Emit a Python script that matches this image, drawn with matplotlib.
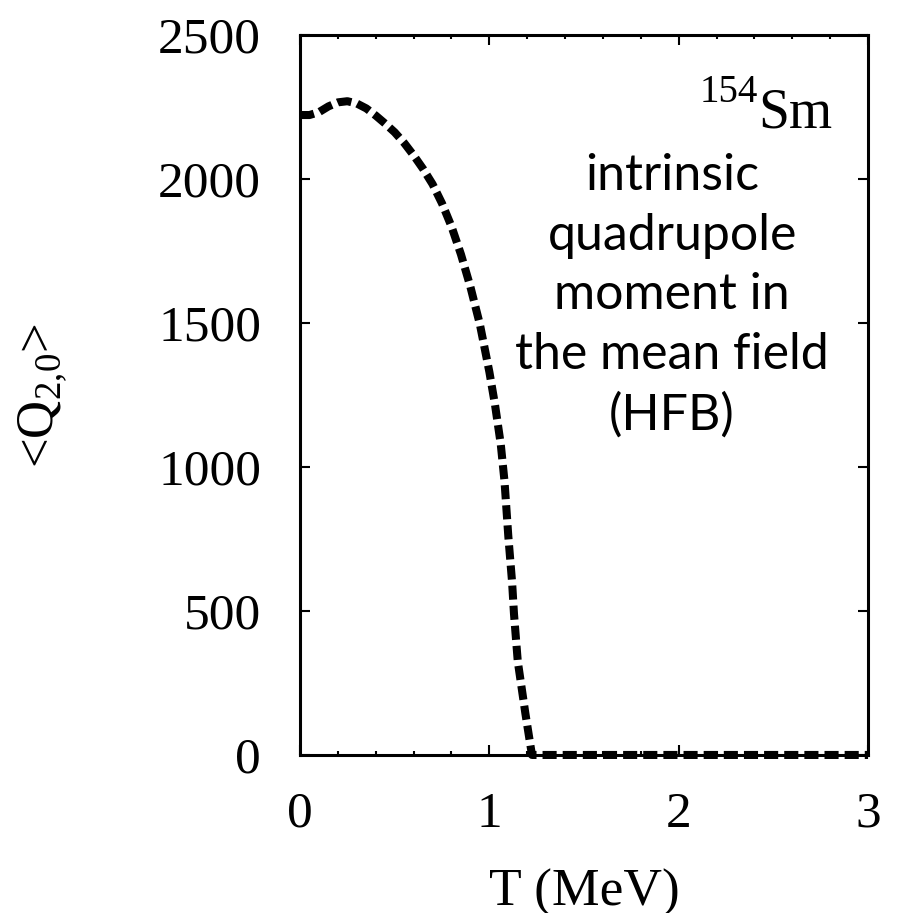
import matplotlib
matplotlib.use('Agg')
import matplotlib.pyplot as plt
from matplotlib.ticker import MultipleLocator

# temperature (MeV) and intrinsic quadrupole moment <Q20>
T = [0.00, 0.05, 0.10, 0.15, 0.20, 0.25, 0.30, 0.35, 0.40, 0.45, 0.50, 0.55,
     0.60, 0.65, 0.70, 0.75, 0.80, 0.85, 0.90, 0.95, 1.00, 1.03, 1.06, 1.08,
     1.10, 1.12, 1.13, 1.15, 1.19, 1.215, 1.225, 1.5, 2.0, 2.5, 3.0]
Q = [2222, 2222, 2232, 2252, 2266, 2270, 2262, 2245, 2220, 2192, 2162, 2125,
     2082, 2035, 1982, 1915, 1835, 1738, 1625, 1495, 1330, 1215, 1080, 950,
     760, 600, 490, 325, 145, 41, 0, 0, 0, 0, 0]

x_ticks = [0, 1, 2, 3]
y_ticks = [0, 500, 1000, 1500, 2000, 2500]
mass_number = '154'
element = 'Sm'
note = 'intrinsic\nquadrupole\nmoment in\nthe mean field\n(HFB)'

plt.rcParams['font.family'] = ['Liberation Serif', 'DejaVu Serif']
plt.rcParams['mathtext.fontset'] = 'custom'
plt.rcParams['mathtext.rm'] = 'Liberation Serif'

fig = plt.figure(figsize=(9.10, 9.13), dpi=100)
ax = fig.add_axes([0.3297, 0.1731, 0.6242, 0.7886])

ax.plot(T, Q, color='black', lw=5.8, linestyle=(0, (1.75, 0.75)),
        dash_capstyle='butt', zorder=5, clip_on=False)

ax.set_xlim(0, 3)
ax.set_ylim(0, 2500)
ax.set_xticks(x_ticks)
ax.set_yticks(y_ticks)
ax.xaxis.set_minor_locator(MultipleLocator(0.2))
ax.tick_params(which='both', direction='in', top=True, right=True,
               labelsize=37, width=1.5)
ax.tick_params(which='major', length=7)
ax.tick_params(which='minor', length=3)
ax.tick_params(axis='y', pad=28)
ax.tick_params(axis='x', pad=26)
for s in ax.spines.values():
    s.set_linewidth(2.2)

ax.set_xlabel('T (MeV)', fontsize=38.5)
ax.xaxis.set_label_coords(0.5, -0.158)
ax.set_ylabel(r'<Q$_{\mathrm{2{,}0}}$>', fontsize=38)
ax.yaxis.set_label_coords(-0.405, 0.5)

ax.text(2.81, 2177, element, fontsize=40, ha='right', va='baseline')
ax.text(2.42, 2267, mass_number, fontsize=28, ha='right', va='baseline')
ax.text(1.965, 2090, note, fontsize=36, family=['Lato', 'DejaVu Sans'],
        ha='center', va='top', linespacing=1.37)

fig.savefig('out.png', dpi=100)
